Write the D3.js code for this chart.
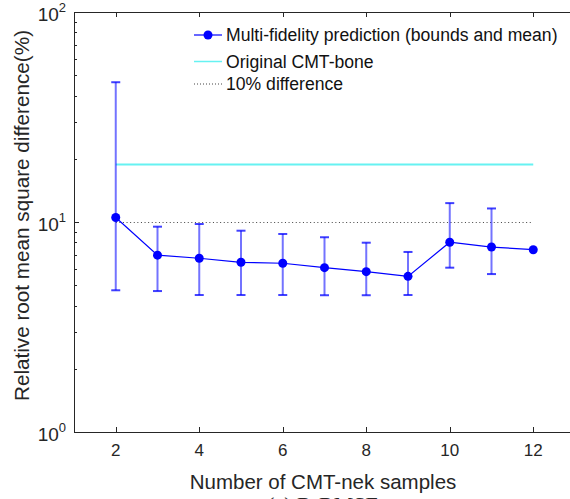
<!DOCTYPE html>
<html>
<head>
<meta charset="utf-8">
<script src="https://cdn.jsdelivr.net/npm/d3@7"></script>
<style>
  html, body { margin: 0; padding: 0; background: #fff; }
  svg { display: block; font-family: "Liberation Sans", Arial, sans-serif; }
</style>
</head>
<body>
<svg id="chart" width="570" height="499"></svg>
<script>
// R-RMSE of the multi-fidelity prediction vs number of CMT-nek samples

const samples = [2, 3, 4, 5, 6, 7, 8, 9, 10, 11, 12];
const meanErr = [10.5, 6.95, 6.72, 6.43, 6.36, 6.06, 5.80, 5.51, 8.01, 7.60, 7.38];
const upperErr = [46.3, 9.5, 9.78, 9.09, 8.77, 8.46, 7.97, 7.2, 12.3, 11.6, 7.38];
const lowerErr = [4.73, 4.69, 4.49, 4.49, 4.49, 4.48, 4.48, 4.49, 6.06, 5.65, 7.38];
const originalErr = 18.8;
const thresholdErr = 10;
const xTicks = [2, 4, 6, 8, 10, 12];
const yMajorTicks = [1, 10, 100];
const legendLabels = [
  "Multi-fidelity prediction (bounds and mean)",
  "Original CMT-bone",
  "10% difference"
];

const COLOR_AXIS = "#262626";
const COLOR_MEAN = "#0000ff";
const COLOR_ORIGINAL = "#66f2f2";
const COLOR_THRESHOLD = "#444";

const svg = d3.select("#chart");
const plotLeft = 74, plotRight = 575, plotTop = 12, plotBottom = 432;

const x = d3.scaleLinear().domain([1, 13]).range([plotLeft, plotRight]);
const y = d3.scaleLog().domain([1, 100]).range([plotBottom, plotTop]);

// minor log ticks 2..9 per decade
const yMinorTicks = [];
[1, 10].forEach((d) => {
  for (let k = 2; k <= 9; k++) yMinorTicks.push(d * k);
});

// box + inward ticks
const axisG = svg.append("g").attr("stroke", COLOR_AXIS).attr("stroke-width", 1).attr("fill", "none");
axisG.append("rect")
  .attr("x", plotLeft + 0.5).attr("y", plotTop + 0.5)
  .attr("width", plotRight - plotLeft).attr("height", plotBottom - plotTop);

xTicks.forEach((t) => {
  const px = Math.round(x(t)) + 0.5;
  axisG.append("line").attr("x1", px).attr("x2", px).attr("y1", plotBottom).attr("y2", plotBottom - 5);
  axisG.append("line").attr("x1", px).attr("x2", px).attr("y1", plotTop).attr("y2", plotTop + 5);
});

yMajorTicks.concat(yMinorTicks).forEach((t) => {
  const py = Math.round(y(t)) + 0.5;
  const len = yMajorTicks.includes(t) ? 5 : 3;
  axisG.append("line").attr("x1", plotLeft).attr("x2", plotLeft + len).attr("y1", py).attr("y2", py);
  axisG.append("line").attr("x1", plotRight).attr("x2", plotRight - len).attr("y1", py).attr("y2", py);
});

// tick labels
svg.append("g").selectAll("text")
  .data(xTicks)
  .join("text")
  .attr("x", (d) => x(d))
  .attr("y", plotBottom + 24)
  .attr("text-anchor", "middle")
  .attr("font-size", 17)
  .attr("fill", COLOR_AXIS)
  .text((d) => d);

const yLabelG = svg.append("g");
yMajorTicks.forEach((t) => {
  const txt = yLabelG.append("text")
    .attr("x", plotLeft - 8)
    .attr("y", y(t) + 9)
    .attr("text-anchor", "end")
    .attr("fill", COLOR_AXIS)
    .attr("font-size", 19);
  txt.append("tspan").text("10");
  txt.append("tspan").attr("font-size", 13).attr("dy", -9).text(Math.round(Math.log10(t)));
});

// axis titles
svg.append("text")
  .attr("x", (plotLeft + 572) / 2)
  .attr("y", 489)
  .attr("text-anchor", "middle")
  .attr("font-size", 20.5)
  .attr("fill", COLOR_AXIS)
  .text("Number of CMT-nek samples");

svg.append("text")
  .attr("transform", "translate(29,215.5) rotate(-90)")
  .attr("text-anchor", "middle")
  .attr("font-size", 20.7)
  .attr("fill", COLOR_AXIS)
  .text("Relative root mean square difference(%)");

svg.append("text")
  .attr("x", (plotLeft + 572) / 2)
  .attr("y", 512)
  .attr("text-anchor", "middle")
  .attr("font-family", "Liberation Serif, Times New Roman, serif")
  .attr("font-size", 22)
  .attr("fill", COLOR_AXIS)
  .text("(a) R-RMSE");

// reference lines
const xs = d3.extent(samples);
svg.append("line")
  .attr("x1", x(xs[0])).attr("x2", x(xs[1]))
  .attr("y1", y(originalErr)).attr("y2", y(originalErr))
  .attr("stroke", COLOR_ORIGINAL).attr("stroke-width", 2);

svg.append("line")
  .attr("x1", x(xs[0])).attr("x2", x(xs[1]))
  .attr("y1", Math.round(y(thresholdErr)) + 0.5).attr("y2", Math.round(y(thresholdErr)) + 0.5)
  .attr("stroke", COLOR_THRESHOLD).attr("stroke-width", 1)
  .attr("stroke-dasharray", "1,2.6");

// error bars
const barG = svg.append("g");
samples.forEach((s, i) => {
  if (upperErr[i] === lowerErr[i]) return;
  const px = x(s);
  barG.append("line")
    .attr("x1", px).attr("x2", px)
    .attr("y1", y(upperErr[i])).attr("y2", y(lowerErr[i]))
    .attr("stroke", COLOR_MEAN).attr("stroke-opacity", 0.55).attr("stroke-width", 2);
  [upperErr[i], lowerErr[i]].forEach((v) => {
    barG.append("line")
      .attr("x1", px - 4.5).attr("x2", px + 4.5)
      .attr("y1", y(v)).attr("y2", y(v))
      .attr("stroke", COLOR_MEAN).attr("stroke-opacity", 0.75).attr("stroke-width", 2);
  });
});

// mean line + markers
svg.append("path")
  .datum(samples)
  .attr("d", d3.line().x((d) => x(d)).y((d, i) => y(meanErr[i])))
  .attr("fill", "none")
  .attr("stroke", COLOR_MEAN)
  .attr("stroke-width", 1.2);

svg.append("g").selectAll("circle")
  .data(samples)
  .join("circle")
  .attr("cx", (d) => x(d))
  .attr("cy", (d, i) => y(meanErr[i]))
  .attr("r", 4.5)
  .attr("fill", COLOR_MEAN);

// legend (no frame)
const legendY = [35, 61.5, 83.5];
const legG = svg.append("g");
legendLabels.forEach((label, i) => {
  const ly = legendY[i];
  const line = legG.append("line")
    .attr("x1", 194).attr("x2", 222)
    .attr("y1", ly).attr("y2", ly);
  if (i === 0) {
    line.attr("stroke", COLOR_MEAN).attr("stroke-width", 1.2);
    legG.append("circle").attr("cx", 208).attr("cy", ly).attr("r", 4.5).attr("fill", COLOR_MEAN);
  } else if (i === 1) {
    line.attr("stroke", COLOR_ORIGINAL).attr("stroke-width", 1.5);
  } else {
    line.attr("y1", ly + 0.5).attr("y2", ly + 0.5)
      .attr("stroke", COLOR_THRESHOLD).attr("stroke-width", 1).attr("stroke-dasharray", "1,2");
  }
  legG.append("text")
    .attr("x", 226)
    .attr("y", ly + 6)
    .attr("font-size", 17.6)
    .attr("fill", "#111")
    .text(label);
});
</script>
</body>
</html>
